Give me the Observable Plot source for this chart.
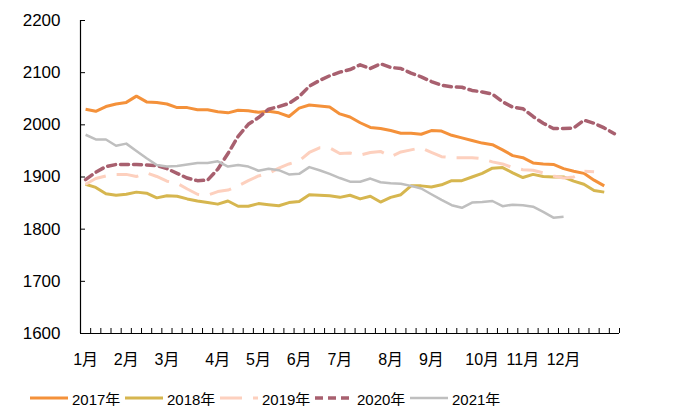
<!DOCTYPE html>
<html>
<head>
<meta charset="utf-8">
<script src="https://cdn.jsdelivr.net/npm/d3@7"></script>
<script src="https://cdn.jsdelivr.net/npm/@observablehq/plot@0.6"></script>
<style>
  html, body { margin: 0; padding: 0; background: #fff; }
  body { width: 675px; height: 406px; overflow: hidden; font-family: "Liberation Sans", Arial, "Noto Sans CJK SC", sans-serif; }
  #legend { display: flex; margin-left: 30px; height: 20px; align-items: center; margin-top: 16px; font-size: 15px; color: #000; }
  .item { display: flex; align-items: center; width: 95px; }
  .item svg { margin-right: 4px; }
</style>
</head>
<body>
<div id="chart"></div>
<div id="legend"></div>
<script>
const weeks = d3.range(53);
const monthLabels = ["1月","2月","3月","4月","5月","6月","7月","8月","9月","10月","11月","12月"];
const monthWeeks = [0, 4, 8, 13, 17, 21, 25, 30, 34, 39, 43, 47];
const years = ["2017年","2018年","2019年","2020年","2021年"];

const y2017 = [2030,2026,2035,2040,2043,2055,2044,2043,2040,2033,2033,2029,2029,2025,2023,2028,2027,2024,2026,2023,2016,2032,2038,2036,2034,2021,2015,2004,1995,1993,1989,1984,1984,1982,1989,1988,1980,1975,1970,1965,1962,1952,1941,1937,1927,1925,1924,1916,1911,1907,1894,1883];
const y2018 = [1886,1880,1868,1865,1867,1871,1869,1860,1864,1863,1858,1854,1851,1848,1854,1844,1844,1849,1847,1845,1851,1853,1866,1865,1864,1861,1865,1858,1863,1852,1861,1866,1883,1883,1881,1885,1893,1893,1900,1907,1917,1918,1908,1899,1905,1901,1900,1900,1892,1886,1874,1871];
const y2019 = [1886,1897,1902,1905,1905,1901,1908,1901,1892,1888,1877,1867,1865,1872,1875,1883,1893,1902,1907,1917,1925,1931,1947,1956,1956,1945,1946,1942,1947,1949,1939,1948,1952,1956,1947,1939,1937,1937,1937,1935,1929,1925,1918,1914,1913,1908,1902,1898,1900,1911,1910];
const y2020 = [1895,1909,1920,1924,1924,1924,1923,1922,1916,1907,1898,1893,1894,1915,1945,1978,2001,2014,2030,2035,2041,2054,2074,2085,2094,2101,2106,2115,2108,2117,2110,2108,2099,2092,2083,2076,2073,2072,2066,2063,2059,2044,2034,2031,2016,2003,1993,1993,1994,2009,2003,1994,1983];
const y2021 = [1981,1972,1972,1960,1964,1950,1936,1923,1920,1921,1924,1927,1927,1930,1920,1923,1920,1912,1916,1913,1905,1906,1919,1913,1906,1898,1891,1891,1897,1890,1888,1887,1883,1878,1867,1856,1846,1841,1851,1852,1854,1844,1847,1846,1843,1833,1822,1824];
const yTicks = [1600,1700,1800,1900,2000,2100,2200];

const seriesValues = [y2017, y2018, y2019, y2020, y2021];
const styles = [
  {stroke: "#F4913A", strokeWidth: 3, dash: null},
  {stroke: "#D6B64F", strokeWidth: 3, dash: null},
  {stroke: "#FDD0BE", strokeWidth: 3, dash: "22,11"},
  {stroke: "#A8606F", strokeWidth: 3.5, dash: "8,5"},
  {stroke: "#BFBFBF", strokeWidth: 2.5, dash: null}
];

const rows = seriesValues.map((vals, s) => vals.map((v, i) => ({week: weeks[i], value: v, year: years[s]})));
const boundaries = d3.range(weeks.length + 1).map(i => i - 0.5);

const chart = Plot.plot({
  width: 675,
  height: 372,
  marginLeft: 80,
  marginRight: 56,
  marginTop: 20,
  marginBottom: 39,
  style: {fontFamily: '"Liberation Sans", Arial, "Noto Sans CJK SC", sans-serif', color: "#000", background: "#fff"},
  x: {type: "linear", domain: [-0.5, weeks.length - 0.5]},
  y: {domain: [1600, 2200]},
  marks: [
    Plot.axisY({ticks: yTicks, tickSize: -5, tickPadding: 25, fontSize: 17, label: null, tickFormat: d => String(d)}),
    Plot.axisX({ticks: boundaries, tickSize: -5, tickFormat: () => "", label: null}),
    Plot.axisX({ticks: monthWeeks, tickSize: 0, tickPadding: 20, fontSize: 16, label: null, tickFormat: d => monthLabels[monthWeeks.indexOf(d)]}),
    ...rows.map((data, s) => Plot.line(data, {
      x: "week", y: "value",
      stroke: styles[s].stroke,
      strokeWidth: styles[s].strokeWidth,
      strokeDasharray: styles[s].dash,
      strokeLinejoin: "round",
      strokeLinecap: s === 3 ? "round" : "butt"
    })),
    Plot.ruleX([-0.5], {stroke: "#000", strokeWidth: 1.2}),
    Plot.ruleY([1600], {stroke: "#000", strokeWidth: 1.2})
  ]
});
document.getElementById("chart").appendChild(chart);

const legend = document.getElementById("legend");
years.forEach((name, s) => {
  const st = styles[s];
  const item = document.createElement("div");
  item.className = "item";
  item.innerHTML = `<svg width="38" height="8"><line x1="0" x2="38" y1="4" y2="4" stroke="${st.stroke}" stroke-width="${st.strokeWidth}" ${st.dash ? `stroke-dasharray="${st.dash}"` : ""}/></svg><span>${name}</span>`;
  legend.appendChild(item);
});
</script>
</body>
</html>
